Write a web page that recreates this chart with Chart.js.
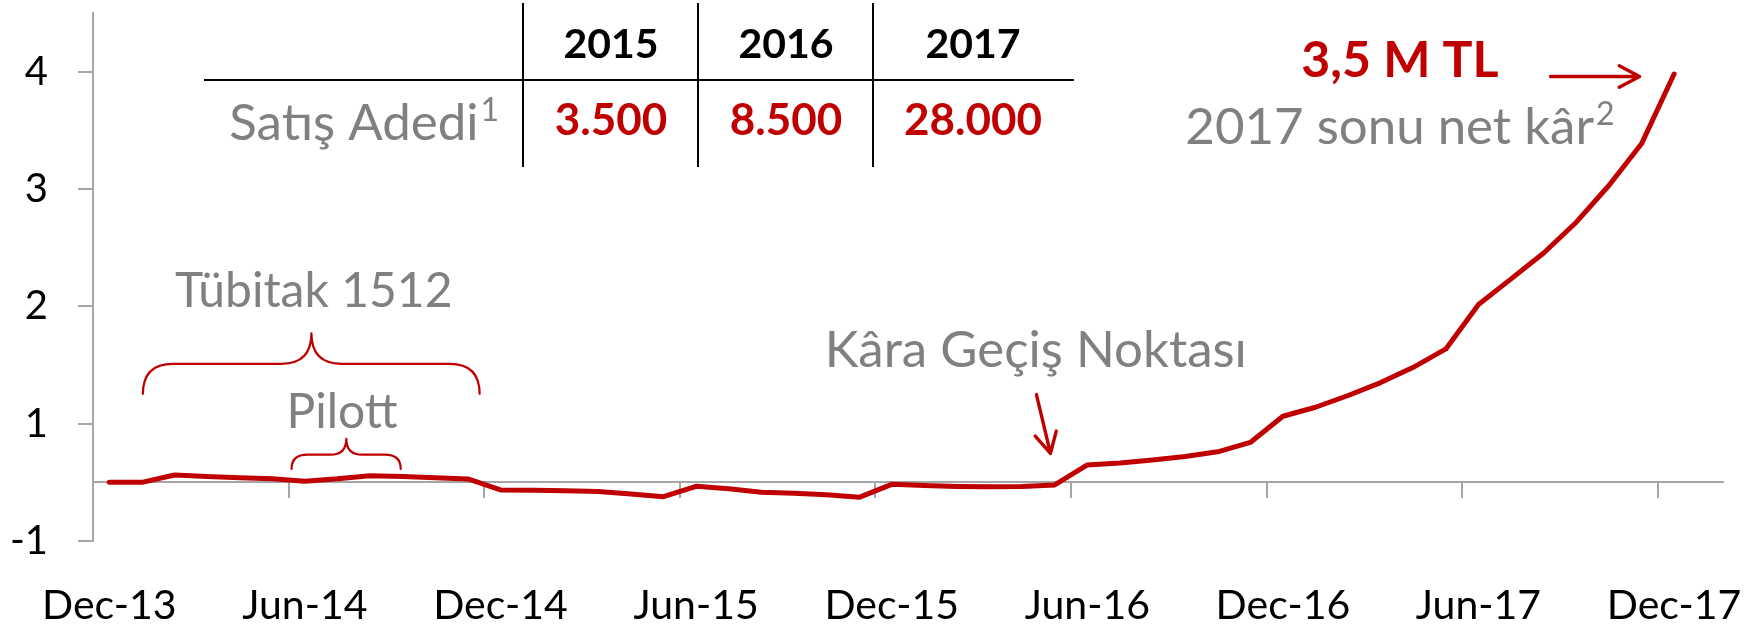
<!DOCTYPE html>
<html>
<head>
<meta charset="utf-8">
<script src="https://cdn.jsdelivr.net/npm/chart.js@4.4.1/dist/chart.umd.min.js"></script>
<style>
  html, body { margin: 0; padding: 0; background: #fff; }
  canvas { display: block; }
</style>
</head>
<body>
<canvas id="cProfit" width="1764" height="627"></canvas>
<script>
// ---- data ----
const months = [
  'Dec-13',
  'Jan-14', 'Feb-14', 'Mar-14', 'Apr-14', 'May-14', 'Jun-14', 'Jul-14', 'Aug-14', 'Sep-14', 'Oct-14', 'Nov-14', 'Dec-14',
  'Jan-15', 'Feb-15', 'Mar-15', 'Apr-15', 'May-15', 'Jun-15', 'Jul-15', 'Aug-15', 'Sep-15', 'Oct-15', 'Nov-15', 'Dec-15',
  'Jan-16', 'Feb-16', 'Mar-16', 'Apr-16', 'May-16', 'Jun-16', 'Jul-16', 'Aug-16', 'Sep-16', 'Oct-16', 'Nov-16', 'Dec-16',
  'Jan-17', 'Feb-17', 'Mar-17', 'Apr-17', 'May-17', 'Jun-17', 'Jul-17', 'Aug-17', 'Sep-17', 'Oct-17', 'Nov-17', 'Dec-17',
  'Jan-18'
];
// cumulative net profit, M TL
const profit = [
  0.00,
  0.00, 0.063, 0.05, 0.04, 0.03, 0.01, 0.03, 0.057, 0.05, 0.04, 0.029, -0.065,
  -0.067, -0.072, -0.079, -0.10, -0.122, -0.034, -0.054, -0.085, -0.093, -0.105, -0.128, -0.017,
  -0.028, -0.035, -0.038, -0.035, -0.022, 0.148, 0.165, 0.19, 0.22, 0.26, 0.34, 0.563,
  0.64, 0.74, 0.85, 0.98, 1.137, 1.515, 1.734, 1.955, 2.217, 2.53, 2.885, 3.48,
  null
];
const yTickValues = [-0.5, 0.5, 1.5, 2.5, 3.5];
const yTickLabels = ['-1', '1', '2', '3', '4'];
const years = ['2015', '2016', '2017'];
const salesUnits = ['3.500', '8.500', '28.000'];

// ---- styles ----
const RED = '#c00000';
const GREY = '#808080';
const AXIS = '#a6a6a6';
const FONT = 'Lato';

// annotations, placed in data units (category index, value)
const braces = [
  { from: 1.03, to: 11.36, tip: 6.2, yEnd: 0.754, yBar: 1.01, yTip: 1.27, r: 30 },
  { from: 5.59, to: 8.94, tip: 7.27, yEnd: 0.114, yBar: 0.236, yTip: 0.37, r: 16 }
];
const arrows = [
  { x0: 28.44, y0: 0.748, x1: 28.87, y1: 0.247 },
  { x0: 44.21, y0: 3.459, x1: 46.94, y1: 3.459 }
];
const notes = [
  { text: 'Tübitak 1512', x: 6.27, y: 1.498, size: 48, weight: 400, color: GREY },
  { text: 'Pilott', x: 7.14, y: 0.464, size: 48, weight: 400, color: GREY },
  { text: 'Kâra Geçiş Noktası', x: 28.42, y: 0.986, size: 51, weight: 400, color: GREY },
  { text: '2017 sonu net kâr', sup: '2', x: 39.59, y: 2.88, size: 51, weight: 400, color: GREY },
  { text: '3,5 M TL', x: 39.59, y: 3.451, size: 50, weight: 700, color: RED }
];

// text with an optional raised superscript, anchored by alignment
function drawText(ctx, n, x, y, align) {
  ctx.font = `${n.weight} ${n.size}px ${FONT}`;
  const w = ctx.measureText(n.text).width;
  let sw = 0;
  const supSize = Math.round(n.size * 0.62);
  if (n.sup) {
    ctx.font = `${n.weight} ${supSize}px ${FONT}`;
    sw = ctx.measureText(n.sup).width + 2;
  }
  const total = w + sw;
  const left = align === 'right' ? x - total : align === 'center' ? x - total / 2 : x;
  ctx.textAlign = 'left';
  ctx.fillStyle = n.color;
  ctx.font = `${n.weight} ${n.size}px ${FONT}`;
  ctx.fillText(n.text, left, y);
  if (n.sup) {
    ctx.font = `${n.weight} ${supSize}px ${FONT}`;
    ctx.fillText(n.sup, left + w + 2, y - n.size * 0.38);
  }
}

const notesPlugin = {
  id: 'notes',
  afterDraw(chart) {
    const { ctx } = chart;
    const xs = chart.scales.x, ys = chart.scales.y;
    const px = v => xs.getPixelForValue(v);
    const py = v => ys.getPixelForValue(v);
    ctx.save();
    ctx.strokeStyle = RED;
    ctx.lineCap = 'round';
    ctx.lineJoin = 'round';

    // braces
    ctx.lineWidth = 2.2;
    braces.forEach(b => {
      const x1 = px(b.from), x2 = px(b.to), xm = px(b.tip);
      const ye = py(b.yEnd), yb = py(b.yBar), yt = py(b.yTip);
      ctx.beginPath();
      ctx.moveTo(x1, ye);
      ctx.quadraticCurveTo(x1, yb, x1 + b.r, yb);
      ctx.lineTo(xm - b.r, yb);
      ctx.quadraticCurveTo(xm, yb, xm, yt);
      ctx.quadraticCurveTo(xm, yb, xm + b.r, yb);
      ctx.lineTo(x2 - b.r, yb);
      ctx.quadraticCurveTo(x2, yb, x2, ye);
      ctx.stroke();
    });

    // arrows
    ctx.lineWidth = 3.4;
    arrows.forEach(a => {
      const x0 = px(a.x0), y0 = py(a.y0), x1 = px(a.x1), y1 = py(a.y1);
      const ang = Math.atan2(y1 - y0, x1 - x0), len = 23, spread = 28 * Math.PI / 180;
      ctx.beginPath();
      ctx.moveTo(x0, y0);
      ctx.lineTo(x1, y1);
      ctx.moveTo(x1 - len * Math.cos(ang - spread), y1 - len * Math.sin(ang - spread));
      ctx.lineTo(x1, y1);
      ctx.lineTo(x1 - len * Math.cos(ang + spread), y1 - len * Math.sin(ang + spread));
      ctx.stroke();
    });

    // text notes
    ctx.textBaseline = 'alphabetic';
    notes.forEach(n => drawText(ctx, n, px(n.x), py(n.y), 'center'));

    // sales table
    ctx.strokeStyle = '#000';
    ctx.lineWidth = 2;
    ctx.lineCap = 'butt';
    ctx.beginPath();
    ctx.moveTo(204, 80); ctx.lineTo(1074, 80);
    [523, 698, 873].forEach(x => { ctx.moveTo(x, 3); ctx.lineTo(x, 167); });
    ctx.stroke();

    const colX = [611, 786, 973];
    years.forEach((y, i) => drawText(ctx, { text: y, size: 41, weight: 700, color: '#000' }, colX[i], 58, 'center'));
    salesUnits.forEach((s, i) => drawText(ctx, { text: s, size: 44, weight: 700, color: RED }, colX[i], 135, 'center'));
    drawText(ctx, { text: 'Satış Adedi', sup: '1', size: 51, weight: 400, color: GREY }, 499, 140, 'right');
    ctx.restore();
  }
};

new Chart(document.getElementById('cProfit'), {
  type: 'line',
  data: {
    labels: months,
    datasets: [{
      data: profit,
      borderColor: RED, borderWidth: 5,
      borderCapStyle: 'round', borderJoinStyle: 'round',
      pointRadius: 0, tension: 0, fill: false
    }]
  },
  options: {
    responsive: false, animation: false,
    layout: { padding: { top: 13, right: 41, left: 0, bottom: 0 } },
    plugins: { legend: { display: false }, tooltip: { enabled: false } },
    scales: {
      x: {
        type: 'category', offset: true, position: 'bottom',
        grid: { display: false, drawTicks: false }, border: { display: false },
        ticks: {
          autoSkip: false, maxRotation: 0, minRotation: 0, padding: 40, color: '#000',
          font: { family: FONT, size: 41 },
          callback: (v, i) => (i % 6 === 0 ? months[i] : '')
        },
        afterFit: s => { s.height = 86; s.paddingLeft = 0; s.paddingRight = 0; }
      },
      xZero: {
        type: 'category', offset: true, position: { y: 0 },
        ticks: { display: false },
        grid: {
          offset: true, drawOnChartArea: false, tickLength: 15, lineWidth: 2,
          color: c => (c.index % 6 === 0 ? AXIS : 'rgba(0,0,0,0)')
        },
        border: { display: true, color: AXIS, width: 2 },
        afterFit: s => { s.height = 0; }
      },
      y: {
        min: -0.5, max: 4, position: 'left',
        afterBuildTicks: s => { s.ticks = yTickValues.map(v => ({ value: v })); },
        ticks: {
          padding: 30, color: '#000', font: { family: FONT, size: 40 },
          callback: (v, i) => yTickLabels[i]
        },
        grid: { drawOnChartArea: false, tickLength: 15, lineWidth: 2, color: AXIS },
        border: { display: true, color: AXIS, width: 2 },
        afterFit: s => { s.width = 93; s.paddingTop = 0; s.paddingBottom = 0; }
      }
    }
  },
  plugins: [notesPlugin]
});
</script>
</body>
</html>
